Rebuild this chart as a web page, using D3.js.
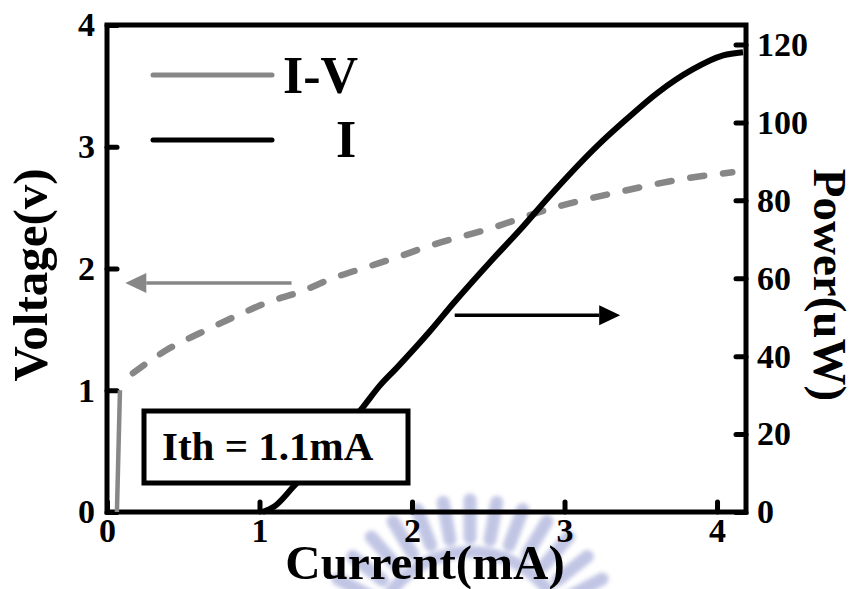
<!DOCTYPE html>
<html>
<head>
<meta charset="utf-8">
<script src="https://cdn.jsdelivr.net/npm/d3@7"></script>
<style>
  body { margin: 0; background: #fff; }
  svg { display: block; }
  text { font-family: "Liberation Serif", "Times New Roman", serif; font-weight: bold; fill: #000; }
</style>
</head>
<body>
<svg id="chart" width="858" height="589"></svg>
<script>
// Steep turn-on of the I-V trace (solid part)
const ivRiseCurrent = [0.065, 0.085];
const ivRiseVoltage = [0, 1.0];

// I-V trace above turn-on (dashed), mA -> V
const ivCurrent = [0.17, 0.39, 0.61, 0.83, 1.05, 1.27, 1.48, 1.70, 1.92, 2.10, 2.49, 2.93, 3.36, 3.80, 4.10];
const ivVoltage = [1.14, 1.33, 1.47, 1.60, 1.72, 1.81, 1.92, 2.01, 2.10, 2.18, 2.32, 2.50, 2.63, 2.74, 2.79];

// Light output, mA -> uW
const powerCurrent = [1.02, 1.10, 1.22, 1.45, 1.68, 1.79, 1.90, 2.12, 2.27, 2.52, 2.71, 2.90, 3.21, 3.40, 3.61, 3.84, 4.04, 4.17];
const powerValues  = [0, 1.5, 6.4, 16.5, 27.0, 32.5, 37.0, 46.5, 53.5, 64.5, 72.5, 81.0, 93.8, 100.6, 107.6, 113.6, 117.2, 118];

const currentTicks = [0, 1, 2, 3, 4];
const voltageTicks = [0, 1, 2, 3, 4];
const powerTicks = [0, 20, 40, 60, 80, 100, 120];

const legendLabels = ["I-V", "I"];
const thresholdLabel = "Ith = 1.1mA";

const svg = d3.select("#chart");
const plotLeft = 107, plotRight = 746, plotTop = 25, plotBottom = 512;

const x = d3.scaleLinear().domain([0, 4.19]).range([plotLeft, plotRight]);
const yV = d3.scaleLinear().domain([0, 4]).range([plotBottom, plotTop]);
const yP = d3.scaleLinear().domain([0, 125]).range([plotBottom, plotTop]);

const grey = "#878787";

// Faint emblem printed behind the lower edge of the figure
const defs = svg.append("defs");
defs.append("filter").attr("id", "soft").append("feGaussianBlur").attr("stdDeviation", 2);
const emblem = svg.append("g").attr("filter", "url(#soft)").attr("opacity", 0.55);
const ec = [470, 650];
d3.range(0, 15).forEach(i => {
  const a = (-162 + i * (144 / 14)) * Math.PI / 180;
  const r0 = 112, r1 = 150;
  emblem.append("line")
    .attr("x1", ec[0] + r0 * Math.cos(a)).attr("y1", ec[1] + r0 * Math.sin(a))
    .attr("x2", ec[0] + r1 * Math.cos(a)).attr("y2", ec[1] + r1 * Math.sin(a))
    .attr("stroke", "#8f97cf").attr("stroke-width", 13).attr("stroke-linecap", "round");
});
emblem.append("path")
  .attr("d", d3.arc().innerRadius(92).outerRadius(104).startAngle(-1.35).endAngle(1.35)())
  .attr("transform", `translate(${ec[0]},${ec[1]})`)
  .attr("fill", "#8f97cf");

// Frame
svg.append("rect")
  .attr("x", plotLeft).attr("y", plotTop)
  .attr("width", plotRight - plotLeft).attr("height", plotBottom - plotTop)
  .attr("fill", "none").attr("stroke", "#000").attr("stroke-width", 5);

function styleAxis(g) {
  g.select(".domain").remove();
  g.selectAll(".tick line").attr("stroke", "#000").attr("stroke-width", 5).attr("stroke-linecap", "round");
  g.selectAll(".tick text").attr("font-size", 34).attr("fill", "#000")
    .attr("font-family", "Liberation Serif, Times New Roman, serif").attr("font-weight", "bold");
}

svg.append("g").attr("transform", `translate(${plotLeft},0)`)
  .call(d3.axisLeft(yV).tickValues(voltageTicks).tickFormat(d3.format("d")).tickSize(-10).tickPadding(12))
  .call(styleAxis);

svg.append("g").attr("transform", `translate(${plotRight},0)`)
  .call(d3.axisRight(yP).tickValues(powerTicks).tickFormat(d3.format("d")).tickSize(-10).tickPadding(11))
  .call(styleAxis);

svg.append("g").attr("transform", `translate(0,${plotBottom})`)
  .call(d3.axisBottom(x).tickValues(currentTicks).tickFormat(d3.format("d")).tickSize(-10).tickPadding(6))
  .call(styleAxis);

// Curves
const ivRise = ivRiseCurrent.map((c, i) => [c, ivRiseVoltage[i]]);
const iv = ivCurrent.map((c, i) => [c, ivVoltage[i]]);
const power = powerCurrent.map((c, i) => [c, powerValues[i]]);

const lineV = d3.line().x(d => x(d[0])).y(d => yV(d[1])).curve(d3.curveMonotoneX);
const lineP = d3.line().x(d => x(d[0])).y(d => yP(d[1])).curve(d3.curveMonotoneX);

svg.append("path").datum(ivRise).attr("d", d3.line().x(d => x(d[0])).y(d => yV(d[1])))
  .attr("fill", "none").attr("stroke", grey).attr("stroke-width", 4.5);

svg.append("path").datum(iv).attr("d", lineV)
  .attr("fill", "none").attr("stroke", grey).attr("stroke-width", 6.5)
  .attr("stroke-linecap", "round").attr("stroke-dasharray", "14,19");

svg.append("path").datum(power).attr("d", lineP)
  .attr("fill", "none").attr("stroke", "#000").attr("stroke-width", 6)
  .attr("stroke-linejoin", "round");

// Threshold annotation box
svg.append("rect")
  .attr("x", 144).attr("y", 411).attr("width", 264).attr("height", 72)
  .attr("fill", "#fff").attr("stroke", "#000").attr("stroke-width", 5);
svg.append("text").attr("x", 162).attr("y", 460).attr("font-size", 41).text(thresholdLabel);

// Legend
const legend = [
  { label: legendLabels[0], color: grey, y: 75, tx: 283, ty: 93 },
  { label: legendLabels[1], color: "#000", y: 140, tx: 336, ty: 157 }
];
legend.forEach(l => {
  svg.append("line").attr("x1", 153).attr("x2", 272).attr("y1", l.y).attr("y2", l.y)
    .attr("stroke", l.color).attr("stroke-width", 5).attr("stroke-linecap", "round");
  svg.append("text").attr("x", l.tx).attr("y", l.ty).attr("font-size", 52).text(l.label);
});

// Axis-pointer arrows
function arrow(x1, x2, y, color) {
  const dir = Math.sign(x2 - x1);
  const head = 21, half = 10;
  svg.append("line").attr("x1", x1).attr("x2", x2 - dir * head).attr("y1", y).attr("y2", y)
    .attr("stroke", color).attr("stroke-width", 3.5);
  svg.append("path")
    .attr("d", `M${x2},${y} L${x2 - dir * head},${y - half} L${x2 - dir * head},${y + half} Z`)
    .attr("fill", color);
}
arrow(x(1.21), x(0.12), yV(1.88), grey);
arrow(x(2.28), x(3.365), yP(50.5), "#000");

// Axis titles
svg.append("text").attr("x", 425).attr("y", 579).attr("text-anchor", "middle")
  .attr("font-size", 49).text("Current(mA)");
svg.append("text").attr("transform", "translate(47,275) rotate(-90)").attr("text-anchor", "middle")
  .attr("font-size", 49).text("Voltage(v)");
svg.append("text").attr("transform", "translate(814,285) rotate(90)").attr("text-anchor", "middle")
  .attr("font-size", 47).text("Power(uW)");
</script>
</body>
</html>
